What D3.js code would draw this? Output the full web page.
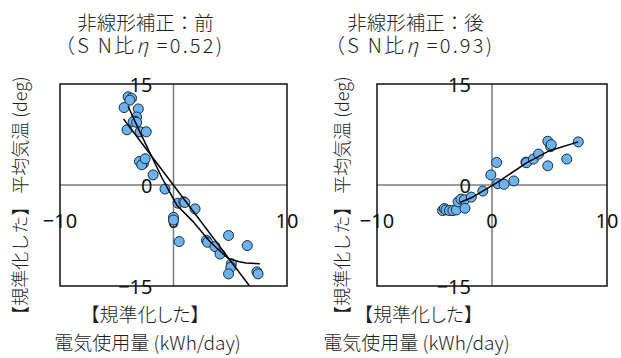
<!DOCTYPE html>
<html>
<head>
<meta charset="utf-8">
<script src="https://cdn.jsdelivr.net/npm/d3@7"></script>
<style>
  html, body { margin: 0; padding: 0; background: #fff; }
  svg { display: block; }
  text { font-family: "Noto Sans CJK JP", "Noto Sans", sans-serif; font-weight: 300; fill: #1e1e1e; }
  text.tick { font-family: "Noto Sans", "Noto Sans CJK JP", sans-serif; font-weight: 400; fill: #111; }
</style>
</head>
<body>
<svg id="chart" width="621" height="358"></svg>
<script>
// Normalized electricity usage (x) vs normalized mean temperature (y)

// Panel A: before nonlinear correction
const beforeX = [-4.0, -3.7, -3.85, -4.35, -3.1, -3.25, -3.4, -3.55, -3.25, -4.1, -2.95, -2.4,
                 -3.0, -2.65, -2.8, -2.5, -1.8, -0.75, 0.4, 0.9, 1.0, 1.9, 0.0, 0.0,
                 0.5, 2.9, 3.0, 3.65, 4.1, 4.85, 6.5, 5.1, 5.05, 4.85, 7.35, 7.45];
const beforeY = [13.1, 12.9, 12.6, 11.5, 11.3, 10.1, 9.5, 9.4, 9.3, 8.2, 7.9, 7.9,
                 3.5, 3.2, 3.0, 3.9, 1.5, -0.6, -2.7, -2.5, -2.6, -3.55, -4.8, -5.2,
                 -8.4, -8.2, -8.5, -9.15, -10.25, -7.5, -9.0, -11.7, -12.2, -13.2, -12.9, -13.2];
// linear fit
const beforeLineX = [-4.4, 6.7];
const beforeLineY = [9.8, -15.0];
// nonlinear fit
const beforeCurveX = [-4.0, -3.0, -2.0, -1.0, 0.3, 1.7, 3.2, 4.8, 5.8, 6.4, 7.6];
const beforeCurveY = [11.7, 8.0, 4.5, 1.0, -3.0, -5.4, -8.4, -10.9, -11.4, -11.6, -11.7];

// Panel B: after nonlinear correction
const afterX = [-4.3, -4.15, -4.0, -3.7, -3.4, -3.1, -2.95, -2.7, -2.4, -2.35, -1.8, -0.8,
                -0.1, 0.4, 0.5, 1.05, 1.9, 2.95, 3.0, 3.6, 4.05, 4.85, 4.85, 5.1, 5.15, 6.5, 7.5];
const afterY = [-3.8, -3.5, -3.7, -3.8, -3.8, -3.7, -2.5, -2.1, -2.2, -3.45, -1.8, -0.9,
                1.5, 3.35, 0.2, 0.1, 0.6, 3.4, 3.3, 3.85, 4.6, 2.85, 6.5, 5.7, 6.0, 3.85, 6.4];
const afterCurveX = [-2.8, -1.8, 0.4, 3.0, 5.0, 7.5];
const afterCurveY = [-2.6, -1.9, 0.3, 3.3, 5.1, 6.4];

// Axis ticks and labels
const xTicks = [-10, 0, 10];
const yTicks = [15, 0, -15];
const titles = [["非線形補正：前", "0.52"], ["非線形補正：後", "0.93"]];
const xTitle = ["【規準化した】", "電気使用量 (kWh/day)"];
const yTitle = "【規準化した】 平均気温 (deg)";

const fmt = d => d < 0 ? "\u2212" + Math.abs(d) : String(d);

const svg = d3.select("#chart");

const panels = [
  { left: 60, right: 287, titleX: 145.5, snX: 138.5, xtX: 145, xt2X: 147.5, yTitleX: 19,
    pts: d3.zip(beforeX, beforeY),
    lines: [d3.zip(beforeLineX, beforeLineY), d3.zip(beforeCurveX, beforeCurveY)],
    title: titles[0] },
  { left: 377, right: 607, titleX: 415.5, snX: 408.5, xtX: 418.5, xt2X: 416.5, yTitleX: 341,
    pts: d3.zip(afterX, afterY),
    lines: [d3.zip(afterCurveX, afterCurveY)],
    title: titles[1] }
];

const plotTop = 84, plotBottom = 286;

panels.forEach(p => {
  const x = d3.scaleLinear().domain([-10, 10]).range([p.left, p.right]);
  const y = d3.scaleLinear().domain([-15, 15]).range([plotBottom, plotTop]);
  const g = svg.append("g");

  // zero axes through the middle of the plot
  g.append("line").attr("x1", x(0)).attr("x2", x(0)).attr("y1", plotTop).attr("y2", plotBottom)
    .attr("stroke", "#7a7a7a").attr("stroke-width", 1.5);
  g.append("line").attr("x1", p.left).attr("x2", p.right).attr("y1", y(0)).attr("y2", y(0))
    .attr("stroke", "#7a7a7a").attr("stroke-width", 1.5);

  // tick labels
  g.selectAll(".yt").data(yTicks).join("text").attr("class", "tick")
    .attr("x", x(0) - 21).attr("y", d => y(d))
    .attr("text-anchor", "end").attr("dominant-baseline", "central")
    .attr("font-size", 20).text(fmt);
  g.selectAll(".xt").data(xTicks).join("text").attr("class", "tick")
    .attr("x", d => x(d)).attr("y", y(0) + 35)
    .attr("text-anchor", "middle").attr("dominant-baseline", "central")
    .attr("font-size", 20).text(fmt);

  // plot frame
  g.append("rect").attr("x", p.left).attr("y", plotTop)
    .attr("width", p.right - p.left).attr("height", plotBottom - plotTop)
    .attr("fill", "none").attr("stroke", "#111").attr("stroke-width", 1.5);

  // points
  g.selectAll("circle").data(p.pts).join("circle")
    .attr("cx", d => x(d[0])).attr("cy", d => y(d[1])).attr("r", 5)
    .attr("fill", "#6cb3ef").attr("stroke", "#1b2a3a").attr("stroke-width", 1);

  // fit lines
  const line = d3.line().x(d => x(d[0])).y(d => y(d[1]));
  p.lines.forEach(l => {
    g.append("path").attr("d", line(l)).attr("fill", "none")
      .attr("stroke", "#000").attr("stroke-width", 1.5);
  });

  // titles
  g.append("text").attr("x", p.titleX).attr("y", 30).attr("text-anchor", "middle")
    .attr("font-size", 19.5).text(p.title[0]);
  const t2 = g.append("text").attr("x", p.snX).attr("y", 53).attr("text-anchor", "middle")
    .attr("font-size", 20).attr("textLength", 167).attr("lengthAdjust", "spacing")
    .style("white-space", "pre");
  t2.append("tspan").text("（S N比");
  t2.append("tspan").attr("font-style", "italic").text("η");
  t2.append("tspan").text(" =" + p.title[1] + ")");

  // x axis title
  g.append("text").attr("x", p.xtX).attr("y", 322).attr("text-anchor", "middle")
    .attr("font-size", 19).style("font-feature-settings", "'palt'")
    .text(xTitle[0]);
  g.append("text").attr("x", p.xt2X).attr("y", 350).attr("text-anchor", "middle")
    .attr("font-size", 19).text(xTitle[1]);

  // y axis title
  g.append("text")
    .attr("transform", `translate(${p.yTitleX},200) rotate(-90)`)
    .attr("text-anchor", "middle").attr("dominant-baseline", "central")
    .attr("font-size", 18).text(yTitle);
});
</script>
</body>
</html>
